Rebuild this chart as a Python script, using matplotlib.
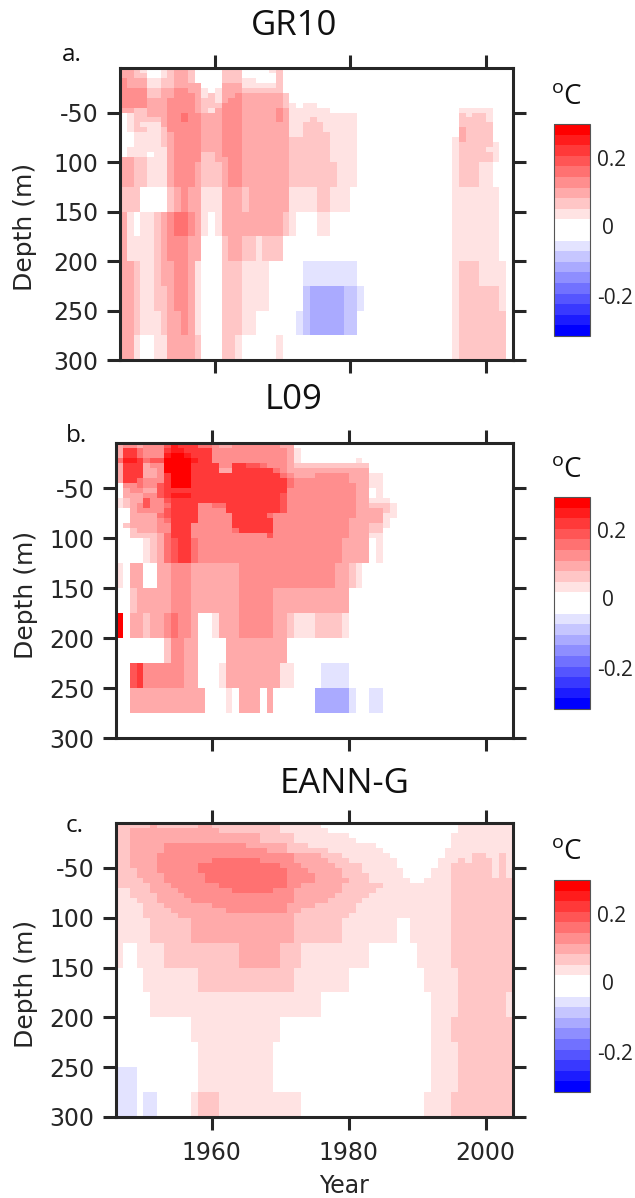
import numpy as np
import matplotlib
matplotlib.use('Agg')
import matplotlib.pyplot as plt
from matplotlib.colors import ListedColormap, BoundaryNorm
from matplotlib.cm import ScalarMappable

plt.rcParams['mathtext.fontset'] = 'custom'
plt.rcParams['mathtext.rm'] = 'Open Sans'

YEAR_EDGES = list(range(1946, 2005))
DEPTH_EDGES = list(range(5, 100, 5)) + list(range(100, 301, 25))
PANEL_TITLES = ['GR10', 'L09', 'EANN-G']
PANEL_LETTERS = ['a.', 'b.', 'c.']
YTICKS = [50, 100, 150, 200, 250, 300]
YTICK_LABELS = ['-50', '100', '150', '200', '250', '300']
XTICKS = [1960, 1980, 2000]
CBAR_LABELS = ['0.2', '0', '-0.2']
BIN = 0.03

# each row: "year-1900 bin year-1900 bin ..." colour bins of 0.03 degC, one row per depth layer
GR10 = [
 "46 3 48 2 49 1 50 0 52 1 53 2 54 3 56 2 57 0 61 2 64 0 68 1 69 2 70 0",
 "46 3 48 2 50 0 52 1 53 2 54 3 56 2 57 0 61 2 64 0 69 2 70 0",
 "46 4 47 3 50 1 52 2 54 3 56 2 57 0 61 2 64 1 66 0 69 2 70 0",
 "46 4 47 3 50 1 52 2 54 3 57 3 58 0 61 3 64 1 69 2 70 0",
 "46 4 50 2 52 3 54 4 56 3 58 1 59 0 60 1 61 3 64 2 69 2 70 0",
 "46 4 50 2 52 3 54 4 57 3 58 1 59 2 60 1 61 3 63 4 64 3 70 2 71 0",
 "46 4 50 3 53 4 57 3 58 2 60 1 61 3 62 4 64 3 70 2 71 0",
 "46 4 50 3 53 4 57 3 58 2 60 2 61 4 64 3 70 2 71 1 72 0 73 1 75 0",
 "46 3 48 2 50 3 53 4 57 3 58 2 59 1 60 3 61 4 64 3 69 4 70 3 71 1 77 0 96 1 101 0",
 "46 0 47 1 48 2 50 3 53 4 55 5 56 4 58 3 61 4 64 3 69 4 70 3 71 1 81 0 96 2 97 1 98 2 100 1 101 0",
 "46 0 47 1 48 2 52 3 53 4 55 5 56 4 58 3 61 4 64 3 69 4 70 3 71 1 74 2 75 1 81 0 96 2 100 1 101 0",
 "46 0 47 1 48 2 49 1 52 3 53 4 58 3 61 4 64 3 71 1 73 2 76 1 81 0 96 2 101 0",
 "46 0 47 1 48 2 50 1 52 2 53 4 58 3 61 4 64 3 71 1 73 2 76 1 81 0 96 3 97 2 101 0",
 "46 0 48 1 52 2 53 3 54 4 58 3 61 4 64 3 71 1 73 2 77 1 81 0 96 3 97 2 101 0",
 "46 0 48 1 52 2 53 3 54 4 58 3 61 4 64 3 71 2 77 1 81 0 95 1 96 3 97 2 101 0",
 "46 0 48 1 52 2 53 3 54 4 58 3 61 4 64 3 71 2 77 1 81 0 95 1 96 2 101 1 102 0",
 "46 0 47 1 53 3 54 4 58 3 61 4 64 3 71 2 77 1 81 0 95 1 96 2 100 1 102 0",
 "46 0 47 1 50 0 51 1 53 3 54 4 58 2 60 3 61 4 64 3 71 2 77 1 81 0 95 1 96 2 101 1 102 0",
 "46 3 48 2 50 1 53 3 54 4 58 2 60 3 62 4 64 3 71 2 77 1 81 0 95 1 96 2 101 1 102 0",
 "46 3 48 2 50 1 53 3 54 4 57 3 58 2 61 3 62 4 64 3 71 2 78 1 81 0 95 1 96 2 99 1 101 0",
 "46 2 49 0 53 2 54 3 55 4 56 3 58 1 61 3 64 2 65 3 71 1 75 2 77 1 80 0 95 1 102 0",
 "46 3 47 1 48 0 49 1 51 2 52 3 53 4 54 5 56 4 57 3 58 1 59 0 60 1 61 3 70 2 71 1 72 0 75 1 77 0 95 1 102 0",
 "46 3 47 1 51 2 52 3 53 4 56 3 58 0 61 2 62 3 64 2 66 1 67 2 70 0 95 1 102 0",
 "46 3 48 2 49 1 51 2 52 3 54 4 56 3 57 1 58 0 61 2 64 1 68 0 73 -1 81 0 95 1 96 2 99 1 103 0",
 "46 3 48 2 49 1 51 2 53 3 54 4 56 3 57 1 58 0 61 2 64 1 68 0 73 -2 74 -3 79 -2 81 -1 82 0 95 1 96 2 102 1 103 0",
 "46 3 48 2 49 1 52 2 53 3 55 4 56 3 57 1 58 0 61 2 64 1 66 0 72 -1 73 -2 74 -3 79 -2 81 0 95 1 96 2 103 0",
 "46 3 48 1 49 0 51 1 53 3 57 2 58 0 61 2 63 1 64 0 69 1 70 0 95 1 96 2 103 0",
]

L09 = [
 "46 3 47 4 49 3 50 4 53 6 54 8 55 7 58 5 60 4 61 3 63 4 70 3 72 0",
 "46 3 47 7 49 5 50 4 53 7 54 8 56 7 60 4 71 3 72 1 73 0",
 "46 3 47 7 49 5 50 4 53 8 54 9 56 8 57 7 60 4 71 3 72 1 73 0",
 "46 5 47 8 49 7 50 5 51 6 53 9 57 8 58 7 60 4 71 3 72 1 73 0 81 1 82 0",
 "46 3 47 7 50 3 51 4 53 9 57 7 61 4 63 7 65 6 67 5 68 4 71 3 72 2 83 0",
 "46 3 47 7 50 3 52 4 53 9 57 7 61 3 63 7 69 5 70 4 71 3 83 0",
 "46 3 47 7 50 3 52 4 53 7 54 9 57 7 70 5 71 4 72 3 75 4 80 3 83 1 85 0",
 "46 3 47 7 49 5 50 4 53 7 54 9 57 7 71 5 72 4 80 3 83 1 85 0",
 "46 0 47 4 49 5 50 4 52 6 53 7 54 9 57 7 71 5 72 4 81 3 83 1 85 0",
 "46 0 47 3 48 4 50 3 52 6 53 7 71 4 81 3 83 0 84 1 85 0",
 "46 0 47 3 50 4 52 6 53 7 54 8 57 7 70 6 71 4 81 3 83 0 84 1 85 0",
 "46 1 47 2 48 3 50 6 51 4 53 6 54 7 70 6 71 4 81 3 83 1 86 0",
 "46 1 47 2 48 3 49 4 50 6 51 4 53 5 54 7 58 4 60 5 62 7 70 6 71 4 81 3 83 2 86 1 87 0",
 "46 0 48 3 49 4 53 6 54 7 58 4 62 7 70 6 71 4 81 3 85 2 86 1 87 0",
 "46 0 48 3 52 5 53 6 54 7 58 4 63 7 68 5 69 4 81 3 85 1 87 0",
 "46 0 48 3 52 4 53 5 54 7 58 4 63 7 69 4 80 3 85 1 86 0",
 "46 0 47 2 48 3 52 4 54 7 57 4 63 7 69 4 80 3 83 2 85 1 86 0",
 "46 0 48 2 49 3 52 4 54 7 57 4 63 5 64 7 69 4 80 3 83 2 85 0",
 "46 0 48 2 52 3 53 5 54 7 57 4 68 6 69 4 80 3 83 1 85 0",
 "46 0 50 1 51 2 52 3 53 5 54 6 55 7 57 5 58 4 79 3 83 0 84 1 85 0",
 "46 1 47 0 48 3 50 0 52 3 54 4 57 3 64 4 78 3 80 2 81 1 82 0",
 "46 0 48 2 49 3 54 4 57 3 64 4 69 3 80 0",
 "46 9 47 0 48 3 50 2 51 3 53 4 54 5 55 4 57 3 58 0 60 1 61 3 64 4 69 3 71 2 72 1 75 2 79 1 80 0",
 "46 0 53 2 54 4 56 3 58 0 62 3 71 0",
 "46 0 48 6 49 7 50 4 56 3 58 0 61 1 62 3 70 1 72 0 76 -1 80 0",
 "46 0 48 3 59 0 62 1 63 0 64 3 67 0 68 3 69 0 75 -3 80 -1 81 0 83 -1 85 0",
 "46 0",
]

EANN = [
 "46 2 51 3 52 2 58 3 60 2 70 1 76 0 96 1",
 "46 2 48 3 61 2 70 1 77 0 96 1",
 "46 2 48 3 67 2 72 1 80 0 95 1",
 "46 2 48 3 67 2 72 1 81 0 95 1",
 "46 2 48 3 53 4 65 3 71 2 74 1 84 0 95 1",
 "46 2 48 3 53 4 68 3 71 2 77 1 85 0 94 1",
 "46 2 48 3 52 4 72 3 76 2 79 1 86 0 94 1 98 2 100 1 102 2 103 1",
 "46 2 48 3 52 4 60 5 67 4 72 3 77 2 80 1 87 0 93 1 96 2 97 1 98 2 101 1 102 2 103 1",
 "46 2 48 3 52 4 58 5 70 4 73 3 78 2 82 1 87 0 93 1 95 2 101 1 102 2 103 1",
 "46 2 49 3 52 4 58 5 71 4 74 3 79 2 82 1 88 0 92 1 95 2 101 1 102 2 103 1",
 "46 2 49 3 53 4 59 5 71 4 75 3 79 2 83 1 88 0 92 1 95 2 101 1 102 2 103 1",
 "46 2 50 3 53 4 59 5 71 4 75 3 80 2 83 1 89 0 91 1 95 2",
 "46 2 51 3 54 4 61 5 71 4 73 3 79 2 85 1 95 2",
 "46 1 48 2 51 3 55 4 63 5 69 4 72 3 79 2 84 1 95 2",
 "46 1 48 2 52 3 56 4 72 3 78 2 83 1 95 2",
 "46 1 49 2 52 3 57 4 72 3 77 2 82 1 95 2",
 "46 1 50 2 53 3 60 4 71 3 75 2 81 1 95 2",
 "46 1 50 2 54 3 62 4 71 3 73 2 81 1 95 2",
 "46 1 50 2 55 3 72 2 80 1 95 2",
 "46 1 51 2 57 3 72 2 79 1 87 0 89 1 95 2",
 "46 1 47 0 49 1 53 2 64 3 70 2 73 1 83 0 90 1 95 2",
 "46 0 50 1 58 2 72 1 80 0 91 1 96 2",
 "46 0 51 1 76 0 92 1 96 2 103 1",
 "46 0 57 1 70 0 92 1 95 2",
 "46 0 58 1 69 0 92 1 96 2",
 "46 -1 49 0 58 1 69 0 92 1 96 2",
 "46 -1 49 0 50 -1 52 0 57 1 58 2 61 1 73 0 91 1 95 2",
]
PANEL_ROWS = [GR10, L09, EANN]


def grid_from_rows(rows):
    years = np.array(YEAR_EDGES[:-1])
    grid = np.zeros((len(rows), len(years)))
    for i, row in enumerate(rows):
        nums = [int(s) for s in row.split()]
        for j in range(0, len(nums), 2):
            y0 = nums[j] + 1900
            y1 = nums[j + 2] + 1900 if j + 2 < len(nums) else 2005
            k = nums[j + 1]
            grid[i, (years >= y0) & (years < y1)] = BIN * k + np.sign(k) * BIN / 2
    return grid


W, H = 635, 1198
DARK = '#262626'
bounds = np.linspace(-0.3, 0.3, 21)
reds = [(1, 1 - k / 9, 1 - k / 9) for k in range(1, 10)]
blues = [(1 - k / 9, 1 - k / 9, 1) for k in range(9, 0, -1)]
cmap = ListedColormap(blues + [(1, 1, 1), (1, 1, 1)] + reds)
norm = BoundaryNorm(bounds, cmap.N)

fig = plt.figure(figsize=(W / 100, H / 100), dpi=100)


def px_axes(l, t, r, b):
    return fig.add_axes([l / W, 1 - b / H, (r - l) / W, (b - t) / H])


def px_text(x, y, s, **kw):
    return fig.text(x / W, 1 - y / H, s, **kw)


AX_BOX = [(120, 68, 513, 360), (116, 443, 513, 738), (116, 823, 513, 1117)]
CB_BOX = [(554, 124, 590, 336), (554, 497, 590, 709), (554, 880, 590, 1092)]
TITLE_POS = [(294, 26), (294, 400), (345, 784)]
LETTER_POS = [(62, 61), (66, 442), (66, 832)]
UNIT_POS = [(567, 97), (567, 470), (567, 852)]
YLABEL_POS = [(25, 227), (26, 595), (26, 984)]
CBAR_OFFSETS = [36, 104, 174]

for i in range(3):
    ax = px_axes(*AX_BOX[i])
    ax.pcolormesh(YEAR_EDGES, DEPTH_EDGES, grid_from_rows(PANEL_ROWS[i]),
                  cmap=cmap, norm=norm, shading='flat', antialiased=False)
    ax.set_xlim(1946, 2004)
    ax.set_ylim(300, 5)
    ax.set_xticks(XTICKS)
    ax.set_yticks(YTICKS)
    ax.set_yticklabels(YTICK_LABELS)
    ax.tick_params(axis='both', which='major', direction='out', length=9.4, width=2.2,
                   color=DARK, labelcolor=DARK, labelsize=17, top=True, right=True)
    ax.tick_params(axis='x', pad=8)
    ax.tick_params(axis='y', pad=6)
    if i < 2:
        ax.set_xticklabels([])
    for sp in ax.spines.values():
        sp.set_linewidth(2.2)
        sp.set_color(DARK)
    px_text(YLABEL_POS[i][0], YLABEL_POS[i][1], 'Depth (m)', fontsize=18, rotation=90,
            ha='center', va='center', color=DARK)
    px_text(*TITLE_POS[i], PANEL_TITLES[i], family='Open Sans', fontsize=25,
            ha='center', va='center', color='#111111')
    px_text(*LETTER_POS[i], PANEL_LETTERS[i], family='Open Sans', fontsize=17.5,
            ha='left', va='baseline', color='#111111')
    px_text(*UNIT_POS[i], r'$^{\mathrm{o}}\mathrm{C}$', fontsize=20,
            ha='center', va='center', color='#111111')
    cax = px_axes(*CB_BOX[i])
    cb = fig.colorbar(ScalarMappable(norm=norm, cmap=cmap), cax=cax, ticks=[],
                      spacing='proportional', drawedges=False)
    cb.minorticks_off()
    cb.outline.set_linewidth(0.8)
    cb.outline.set_edgecolor('#555555')
    top = CB_BOX[i][1]
    px_text(597, top + CBAR_OFFSETS[0], CBAR_LABELS[0], family='Open Sans', fontsize=15,
            ha='left', va='center', color='#222222')
    px_text(608, top + CBAR_OFFSETS[1], CBAR_LABELS[1], family='Open Sans', fontsize=15,
            ha='center', va='center', color='#222222')
    px_text(597, top + CBAR_OFFSETS[2], CBAR_LABELS[2], family='Open Sans', fontsize=15,
            ha='left', va='center', color='#222222')

px_text(344, 1186, 'Year', fontsize=17, ha='center', va='center', color=DARK)

fig.savefig('out.png', dpi=100)
